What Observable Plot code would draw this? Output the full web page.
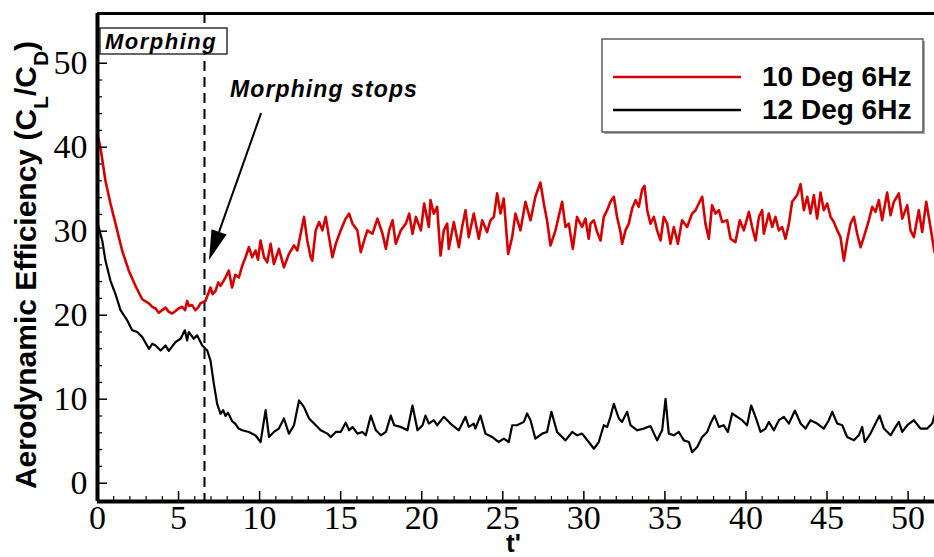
<!DOCTYPE html>
<html><head><meta charset="utf-8">
<script src="https://cdn.jsdelivr.net/npm/d3@7"></script>
<script src="https://cdn.jsdelivr.net/npm/@observablehq/plot@0.6"></script>
<style>
html,body{margin:0;padding:0;background:#fff;}
#chart{position:relative;width:934px;height:557px;overflow:hidden;}
</style></head><body><div id="chart"></div>
<script>
// ---- data ----
const seriesNames = ["10 Deg 6Hz", "12 Deg 6Hz"];
const seriesColors = ["#d40000", "#000000"];

const redT = [0,0.18,0.49,0.8,1.11,1.52,1.93,2.34,2.76,3.17,3.38,3.58,3.78,3.99,4.2,4.4,4.6,4.81,5.0,5.22,5.4,5.53,5.65,5.83,6.04,6.2,6.35,6.66,6.97,7.1,7.28,7.45,7.59,7.75,7.9,8.1,8.3,8.5,8.72,8.93,9.15,9.34,9.54,9.75,9.9,
10.06,10.27,10.47,10.68,10.88,11.19,11.5,11.81,12.12,12.33,12.53,12.74,12.94,13.15,13.25,13.46,13.67,13.87,14.08,14.28,14.49,14.7,15.0,15.31,15.52,15.73,16.03,16.24,16.45,16.65,16.96,17.27,17.58,17.79,17.99,18.2,18.4,18.71,19.02,19.23,19.43,19.64,19.95,20.15,
20.44,20.54,20.74,20.95,21.16,21.36,21.57,21.67,21.98,22.29,22.49,22.7,22.9,23.21,23.52,23.73,24.03,24.24,24.45,24.65,24.86,25.06,25.33,25.58,25.78,26.09,26.4,26.71,27.01,27.32,27.53,27.73,27.94,28.25,28.66,28.87,29.07,29.32,29.58,29.89,30.1,30.3,
30.41,30.62,30.82,31.03,31.23,31.44,31.64,31.85,32.05,32.26,32.36,32.57,32.77,32.98,33.19,33.39,33.6,33.74,33.91,34.11,34.32,34.52,34.73,34.93,35.14,35.34,35.55,35.8,36.06,36.37,36.68,36.89,37.09,37.3,37.5,37.71,37.91,38.12,38.33,38.53,38.84,39.05,39.35,39.62,39.87,40.18,40.38,
40.59,40.8,41.0,41.1,41.41,41.62,41.82,42.03,42.23,42.44,42.65,42.85,43.16,43.37,43.57,43.78,43.98,44.19,44.39,44.6,44.8,45.01,45.22,45.42,45.63,45.83,46.04,46.24,46.45,46.66,46.86,47.07,47.27,47.58,47.79,47.99,48.2,48.4,48.71,48.92,49.12,49.43,49.64,49.95,50.15,50.36,50.66,50.87,51.12,51.38,51.63];
const redV = [41.5,40.0,36.0,33.3,30.9,27.7,25.3,23.5,21.9,21.4,21.0,20.8,20.3,20.6,20.9,20.4,20.2,20.5,20.8,21.0,20.6,21.7,21.1,21.2,20.6,20.9,21.4,21.7,23.3,22.5,22.9,23.9,23.5,24.0,24.5,25.3,23.3,24.8,24.5,25.9,27.0,28.1,26.9,27.7,26.6,
28.9,26.9,26.3,28.5,26.1,27.9,25.7,27.3,28.3,27.7,29.7,31.7,28.9,26.9,26.5,30.1,31.1,30.1,31.7,29.3,26.9,28.5,30.1,31.5,32.1,30.9,30.1,27.5,28.9,30.1,29.7,31.5,29.7,27.9,30.1,31.3,28.5,30.1,30.9,32.1,29.7,31.7,30.1,33.3,
30.5,33.7,32.1,32.9,27.1,30.1,30.9,27.9,31.1,28.1,30.5,32.5,29.3,32.1,29.1,31.3,29.9,31.3,31.7,34.5,32.1,33.9,27.3,29.3,32.1,30.1,33.5,31.3,34.1,35.8,33.3,31.3,28.3,30.1,33.5,30.5,30.9,27.9,31.7,30.5,31.5,29.1,
30.9,31.3,29.9,28.9,31.7,32.5,33.5,34.1,31.7,29.9,28.5,30.1,30.9,32.7,33.7,32.9,35.0,35.4,32.5,30.9,31.7,30.1,28.9,31.7,30.9,28.5,30.5,28.5,31.3,30.5,32.1,32.5,33.3,34.1,30.9,29.1,33.1,32.1,32.5,31.1,31.3,29.1,28.7,31.3,30.1,32.3,30.5,
28.9,31.7,32.5,29.7,32.1,30.5,31.7,30.1,30.5,29.1,30.9,33.5,34.3,35.6,32.5,34.1,32.1,34.3,31.5,34.6,32.5,33.3,31.7,31.1,30.1,29.3,26.5,28.9,30.9,31.7,29.7,28.1,29.3,31.3,32.9,32.3,33.7,31.3,34.6,31.9,33.5,34.5,31.5,33.1,30.1,29.3,32.5,29.9,33.5,30.5,27.5];

const blackT = [0,0.29,0.49,0.8,1.11,1.42,1.83,2.14,2.45,2.76,3.17,3.38,3.58,3.89,4.2,4.4,4.81,5.12,5.39,5.53,5.63,5.94,6.14,6.46,6.77,6.97,7.18,7.38,7.59,7.75,7.9,8.05,8.3,8.51,8.7,8.93,9.34,9.75,10.06,
10.37,10.58,10.88,11.19,11.5,11.81,12.12,12.43,12.74,13.05,13.36,13.77,14.18,14.39,14.7,15.0,15.31,15.52,15.73,16.03,16.34,16.55,16.86,17.17,17.48,17.79,18.09,18.3,18.71,19.12,19.43,19.74,20.05,
20.23,20.44,20.74,20.95,21.36,21.77,22.29,22.7,22.9,23.21,23.31,23.62,23.93,24.34,24.75,25.06,25.37,25.58,25.88,26.3,26.5,26.71,27.01,27.43,27.73,28.0,28.35,28.87,29.28,29.58,29.89,30.3,
30.62,30.92,31.23,31.44,31.64,31.85,32.16,32.36,32.67,32.88,33.29,33.7,34.11,34.52,34.83,35.04,35.24,35.55,35.86,36.17,36.48,36.68,36.99,37.3,37.61,37.81,38.06,38.33,38.63,38.88,39.15,39.46,39.76,40.07,40.32,
40.59,40.9,41.21,41.41,41.72,42.03,42.34,42.65,43.02,43.37,43.67,43.98,44.39,44.8,45.11,45.32,45.63,45.94,46.24,46.66,46.96,47.17,47.33,47.68,47.99,48.24,48.51,48.92,49.23,49.43,49.64,49.95,50.36,50.77,51.18,51.49,51.63];
const blackV = [31.0,28.9,26.5,24.1,22.5,20.6,19.4,18.2,18.0,17.4,16.0,16.6,16.4,15.8,16.4,15.75,16.8,17.2,18.2,17.0,18.0,17.2,17.6,16.4,15.8,14.6,11.8,9.45,8.26,8.7,8.0,8.4,7.4,7.07,6.5,6.3,6.1,5.68,4.9,
8.7,5.5,6.1,6.5,7.7,5.9,6.9,9.85,9.05,7.7,7.1,6.3,5.9,5.5,6.1,6.1,7.2,6.3,6.7,5.9,6.1,5.7,8.05,6.3,5.7,6.1,8.05,6.9,6.7,6.3,9.25,6.3,6.9,
8.05,7.1,7.5,6.9,7.9,7.1,6.3,7.9,6.7,7.1,6.5,8.05,5.9,5.5,4.9,5.3,4.9,6.9,6.9,7.3,8.3,7.5,5.3,5.9,6.1,8.5,6.1,5.1,6.1,5.7,5.9,4.9,
4.1,4.9,6.9,6.7,7.9,9.45,7.7,7.3,8.5,6.9,6.3,6.5,6.8,5.1,6.3,10.05,5.9,5.7,6.1,5.1,4.9,3.7,4.3,5.5,6.1,7.1,8.05,6.7,6.9,6.1,8.3,7.9,7.5,6.9,9.25,
7.9,6.1,6.5,7.3,6.3,7.5,7.9,7.1,8.65,7.1,6.5,7.5,7.1,6.5,7.5,8.5,7.1,6.9,5.5,5.1,5.7,6.7,4.9,5.9,7.1,8.05,6.5,5.7,6.7,7.3,6.1,6.9,7.5,6.5,6.5,7.1,8.05];

const xMajorTicks = [0, 5, 10, 15, 20, 25, 30, 35, 40, 45, 50];
const xMinorTicks = d3.range(1, 52, 1).filter(d => d % 5 !== 0);
const yMajorTicks = [0, 10, 20, 30, 40, 50];
const yMinorTicks = [2, 4, 6, 8, 12, 14, 16, 18, 22, 24, 26, 28, 32, 34, 36, 38, 42, 44, 46, 48, 52, 54];
const morphStopT = [6.6];
const boxLabel = "Morphing";
const arrowLabel = "Morphing stops";
const arrowTail = [10.12, 44.0];
const arrowHead = [6.91, 26.5];
const xDomain = [0, 51.63];
const yDomain = [-2.18, 55.92];
const xTitle = "t'";

// ---- chart ----
const W = 934, H = 557, mT = 13, mL = 97, mR = 0, mB = 56;
const fw = W - mL - mR, fh = H - mT - mB;
const redData = redT.map((t, i) => ({t, v: redV[i]}));
const blackData = blackT.map((t, i) => ({t, v: blackV[i]}));
const serif = "'Liberation Serif', serif";
const sans = "'Liberation Sans', Arial, sans-serif";

const plot = Plot.plot({
  width: W, height: H, marginTop: mT, marginLeft: mL, marginRight: mR, marginBottom: mB,
  x: {domain: xDomain, axis: null},
  y: {domain: yDomain, axis: null},
  style: {background: "#fff", overflow: "visible"},
  marks: [
    Plot.ruleX(morphStopT, {stroke: "#000", strokeWidth: 2, strokeDasharray: "10,6"}),
    Plot.line(blackData, {x: "t", y: "v", stroke: seriesColors[1], strokeWidth: 2.2, clip: true}),
    Plot.line(redData, {x: "t", y: "v", stroke: seriesColors[0], strokeWidth: 2.6, clip: true}),
    Plot.tickX(xMajorTicks, {x: d => d, insetTop: fh - 10, strokeWidth: 1.5}),
    Plot.tickX(xMinorTicks, {x: d => d, insetTop: fh - 5, strokeWidth: 1.2}),
    Plot.tickY(yMajorTicks, {y: d => d, insetRight: fw - 10, strokeWidth: 1.5}),
    Plot.tickY(yMinorTicks, {y: d => d, insetRight: fw - 5, strokeWidth: 1.2}),
    Plot.ruleX([xDomain[0]], {strokeWidth: 4}),
    Plot.ruleY([yDomain[0]], {strokeWidth: 4}),
    Plot.ruleY([yDomain[1]], {strokeWidth: 3}),
    Plot.text(xMajorTicks, {x: d => d, frameAnchor: "bottom", text: d => String(d), lineAnchor: "top", dy: 3, fontFamily: serif, fontSize: 34, fill: "#000"}),
    Plot.text(yMajorTicks, {y: d => d, frameAnchor: "left", text: d => String(d), textAnchor: "end", dx: -10, fontFamily: serif, fontSize: 34, fill: "#000"})
  ]
});
document.getElementById("chart").appendChild(plot);

// ---- overlays (annotations, titles, legend) ----
const svg = d3.select(plot);
const sx = plot.scale("x"), sy = plot.scale("y");
const px = v => sx.apply(v), py = v => sy.apply(v);

function addText(sel, x, y, str, size, opts = {}) {
  return sel.append("text").attr("x", x).attr("y", y)
    .attr("text-anchor", opts.anchor || "start")
    .style("font-family", sans).style("font-weight", "bold")
    .style("font-style", opts.italic ? "italic" : "normal")
    .style("letter-spacing", (opts.spacing || 0) + "px")
    .style("font-size", size + "px").attr("fill", "#000").text(str);
}

// y title with subscripts
const yt = svg.append("text")
  .attr("transform", `translate(36,${(mT + H - mB) / 2 + 8}) rotate(-90)`)
  .attr("text-anchor", "middle")
  .style("font-family", sans).style("font-weight", "bold").style("font-size", "30px").attr("fill", "#000");
yt.append("tspan").text("Aerodynamic Efficiency (C");
yt.append("tspan").attr("baseline-shift", "sub").style("font-size", "21px").text("L");
yt.append("tspan").text("/C");
yt.append("tspan").attr("baseline-shift", "sub").style("font-size", "21px").text("D");
yt.append("tspan").text(")");

// x title
addText(svg, mL + fw / 2 - 2, H - 5, xTitle, 26, {anchor: "middle"});

// Morphing box
const bx = px(0) + 3, by = py(yDomain[1]) + 15;
svg.append("rect").attr("x", bx).attr("y", by).attr("width", 127).attr("height", 26)
  .attr("fill", "#fff").attr("stroke", "#000").attr("stroke-width", 1.2);
addText(svg, bx + 5, by + 21, boxLabel, 22, {italic: true, spacing: 1.5});

// Morphing stops label + arrow
addText(svg, px(arrowTail[0]) - 31, py(arrowTail[1]) - 16, arrowLabel, 23, {italic: true, spacing: 1.1});
{
  const x1 = px(arrowTail[0]), y1 = py(arrowTail[1]), x2 = px(arrowHead[0]), y2 = py(arrowHead[1]);
  const dx = x2 - x1, dy = y2 - y1, L = Math.hypot(dx, dy), ux = dx / L, uy = dy / L;
  const hl = 30, hw = 8;
  const bxp = x2 - ux * hl, byp = y2 - uy * hl;
  svg.append("line").attr("x1", x1).attr("y1", y1).attr("x2", bxp).attr("y2", byp).attr("stroke", "#000").attr("stroke-width", 2);
  svg.append("path").attr("d", `M${x2},${y2}L${bxp - uy * hw},${byp + ux * hw}L${bxp + uy * hw},${byp - ux * hw}Z`).attr("fill", "#000");
}

// legend
const lg = svg.append("g");
lg.append("rect").attr("x", 604).attr("y", 41).attr("width", 321).attr("height", 93).attr("fill", "#aaa");
lg.append("rect").attr("x", 602).attr("y", 39).attr("width", 321).attr("height", 93).attr("fill", "#fff").attr("stroke", "#444").attr("stroke-width", 1.3);
seriesNames.forEach((name, i) => {
  const yy = 77 + i * 33;
  lg.append("line").attr("x1", 613).attr("x2", 741).attr("y1", yy).attr("y2", yy).attr("stroke", seriesColors[i]).attr("stroke-width", 2.4);
  addText(lg, 762, yy + 9, name, 28);
});
</script>
</body></html>
